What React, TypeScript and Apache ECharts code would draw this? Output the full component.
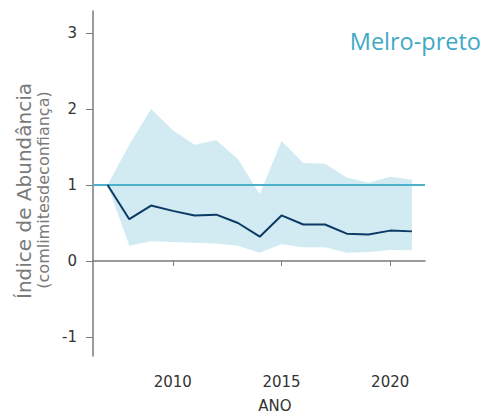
import React, { useEffect, useRef } from "react";
import * as echarts from "echarts";

const years = [2007, 2008, 2009, 2010, 2011, 2012, 2013, 2014, 2015, 2016, 2017, 2018, 2019, 2020, 2021];
const meanIndex = [1.0, 0.55, 0.73, 0.66, 0.6, 0.61, 0.5, 0.32, 0.6, 0.48, 0.48, 0.36, 0.35, 0.4, 0.39];
const upperCI = [1.0, 1.53, 2.0, 1.72, 1.53, 1.59, 1.34, 0.88, 1.58, 1.29, 1.28, 1.1, 1.03, 1.11, 1.07];
const lowerCI = [1.0, 0.2, 0.26, 0.25, 0.24, 0.23, 0.2, 0.11, 0.22, 0.18, 0.18, 0.11, 0.12, 0.145, 0.14];
const xTicks = [2010, 2015, 2020];
const yTicks = [-1, 0, 1, 2, 3];
const referenceValue = 1;

const FONT = "'DejaVu Sans', 'Open Sans', sans-serif";
const TITLE_FONT = "'Open Sans', 'DejaVu Sans', sans-serif";

export default function App() {
  const ref = useRef<HTMLDivElement>(null);
  useEffect(() => {
    if (!ref.current) return;
    const chart = echarts.init(ref.current, null, { renderer: "svg" });
    const axisColor = "#7a7a7a";
    chart.setOption({
      animation: false,
      grid: { left: 93, right: 61, top: 11, bottom: 58, outerBoundsMode: "none" },
      title: {
        text: "Melro-preto",
        right: 5,
        top: 29,
        padding: 0,
        textStyle: { color: "#3fa9c5", fontSize: 23.5, fontWeight: "normal", fontFamily: TITLE_FONT },
      },
      xAxis: {
        type: "value",
        min: 2006.33,
        max: 2021.6,
        axisLine: { show: true, lineStyle: { color: axisColor, width: 1.5 } },
        axisTick: { show: true, customValues: xTicks, length: 5, lineStyle: { color: axisColor } },
        axisLabel: {
          customValues: xTicks,
          color: "#333",
          fontSize: 15,
          margin: 18,
          fontFamily: FONT,
          formatter: (v: number) => String(v),
        },
        splitLine: { show: false },
      },
      yAxis: {
        type: "value",
        min: -1.25,
        max: 3.29,
        axisLine: { show: true, lineStyle: { color: axisColor, width: 1.5 } },
        axisTick: { show: true, customValues: yTicks, length: 7, lineStyle: { color: axisColor } },
        axisLabel: { customValues: yTicks, color: "#333", fontSize: 15, margin: 16, fontFamily: FONT },
        splitLine: { show: false },
      },
      graphic: [
        {
          type: "text",
          x: 24,
          y: 191,
          rotation: Math.PI / 2,
          style: {
            text: "Índice de Abundância",
            fill: "#7a7a7a",
            fontSize: 20,
            fontFamily: FONT,
            textAlign: "center",
            textVerticalAlign: "middle",
          },
        },
        {
          type: "text",
          x: 43,
          y: 190,
          rotation: Math.PI / 2,
          style: {
            text: "(comlimitesdeconfiança)",
            fill: "#7a7a7a",
            fontSize: 16,
            fontFamily: FONT,
            textAlign: "center",
            textVerticalAlign: "middle",
          },
        },
        {
          type: "text",
          x: 275,
          y: 406,
          style: {
            text: "ANO",
            fill: "#333",
            fontSize: 15,
            fontFamily: FONT,
            textAlign: "center",
            textVerticalAlign: "middle",
          },
        },
      ],
      series: [
        {
          type: "custom",
          silent: true,
          data: years.map((y, i) => [y, lowerCI[i], upperCI[i]]),
          encode: { x: 0, y: [1, 2] },
          renderItem: (params: any, api: any) => {
            if (params.dataIndex !== 0) return null;
            const upperPts = years.map((y, i) => api.coord([y, upperCI[i]]));
            const lowerPts = years.map((y, i) => api.coord([y, lowerCI[i]])).reverse();
            return {
              type: "polygon",
              shape: { points: upperPts.concat(lowerPts) },
              style: { fill: "#d2ebf2" },
            };
          },
          z: 1,
        },
        {
          type: "line",
          data: years.map((y, i) => [y, meanIndex[i]]),
          symbol: "none",
          lineStyle: { color: "#0b3a66", width: 2 },
          markLine: {
            silent: true,
            symbol: "none",
            label: { show: false },
            lineStyle: { color: "#4db1ca", width: 2, type: "solid" },
            data: [{ yAxis: referenceValue }],
          },
          z: 5,
        },
      ],
    });
    return () => chart.dispose();
  }, []);
  return (
    <div
      ref={ref}
      style={{ position: "absolute", left: 0, top: 0, width: 486, height: 414 }}
    />
  );
}
